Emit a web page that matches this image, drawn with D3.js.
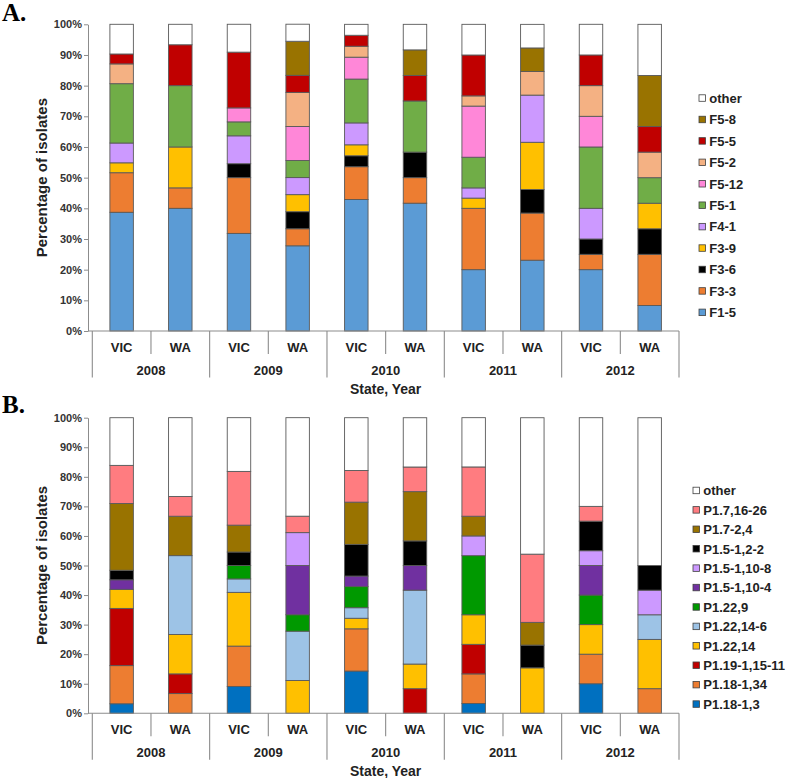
<!DOCTYPE html>
<html><head><meta charset="utf-8">
<script src="https://cdn.jsdelivr.net/npm/d3@7"></script>
<style>body{margin:0;background:#fff}svg{display:block}</style>
</head><body>
<svg id="chart" width="787" height="778"></svg>
<script>
// ---------- DATA ----------
const years = ["2008", "2009", "2010", "2011", "2012"];
const states = ["VIC", "WA"];
const yTicks = [0, 10, 20, 30, 40, 50, 60, 70, 80, 90, 100];

// Panel A (FetA types), values in % per bar: 2008 VIC, 2008 WA, 2009 VIC, ... 2012 WA
const seriesA = ["F1-5", "F3-3", "F3-6", "F3-9", "F4-1", "F5-1", "F5-12", "F5-2", "F5-5", "F5-8", "other"];
const colorsA = ["#5B9BD5", "#ED7D31", "#000000", "#FFC000", "#CC99FF", "#70AD47", "#FF87D8", "#F4B183", "#C00000", "#997300", "#FFFFFF"];
const a_F1_5  = [38.71, 40.00, 31.82, 27.78, 42.86, 41.67, 20.00, 23.08, 20.00, 8.33];
const a_F3_3  = [12.90, 6.67, 18.18, 5.56, 10.71, 8.33, 20.00, 15.38, 5.00, 16.67];
const a_F3_6  = [0, 0, 4.55, 5.56, 3.57, 8.33, 0, 7.69, 5.00, 8.33];
const a_F3_9  = [3.23, 13.33, 0, 5.56, 3.57, 0, 3.33, 15.38, 0, 8.33];
const a_F4_1  = [6.45, 0, 9.09, 5.56, 7.14, 0, 3.33, 15.38, 10.00, 0];
const a_F5_1  = [19.35, 20.00, 4.55, 5.56, 14.29, 16.67, 10.00, 0, 20.00, 8.33];
const a_F5_12 = [0, 0, 4.55, 11.11, 7.14, 0, 16.67, 0, 10.00, 0];
const a_F5_2  = [6.45, 0, 0, 11.11, 3.57, 0, 3.33, 7.69, 10.00, 8.33];
const a_F5_5  = [3.23, 13.33, 18.18, 5.56, 3.57, 8.33, 13.33, 0, 10.00, 8.33];
const a_F5_8  = [0, 0, 0, 11.11, 0, 8.33, 0, 7.69, 0, 16.67];
const a_other = [9.68, 6.67, 9.09, 5.56, 3.57, 8.33, 10.00, 7.69, 10.00, 16.67];
const valuesA = [a_F1_5, a_F3_3, a_F3_6, a_F3_9, a_F4_1, a_F5_1, a_F5_12, a_F5_2, a_F5_5, a_F5_8, a_other];

// Panel B (PorA types)
const seriesB = ["P1.18-1,3", "P1.18-1,34", "P1.19-1,15-11", "P1.22,14", "P1.22,14-6", "P1.22,9", "P1.5-1,10-4", "P1.5-1,10-8", "P1.5-1,2-2", "P1.7-2,4", "P1.7,16-26", "other"];
const colorsB = ["#0070C0", "#ED7D31", "#C00000", "#FFC000", "#9DC3E6", "#009900", "#7030A0", "#CC99FF", "#000000", "#997300", "#FF7C80", "#FFFFFF"];
const b_P1_18_1_3   = [3.23, 0, 9.09, 0, 14.29, 0, 3.33, 0, 10.00, 0];
const b_P1_18_1_34  = [12.90, 6.67, 13.64, 0, 14.29, 0, 10.00, 0, 10.00, 8.33];
const b_P1_19       = [19.35, 6.67, 0, 0, 0, 8.33, 10.00, 0, 0, 0];
const b_P1_22_14    = [6.45, 13.33, 18.18, 11.11, 3.57, 8.33, 10.00, 15.38, 10.00, 16.67];
const b_P1_22_14_6  = [0, 26.67, 4.55, 16.67, 3.57, 25.00, 0, 0, 0, 8.33];
const b_P1_22_9     = [0, 0, 4.55, 5.56, 7.14, 0, 20.00, 0, 10.00, 0];
const b_P1_5_10_4   = [3.23, 0, 0, 16.67, 3.57, 8.33, 0, 0, 10.00, 0];
const b_P1_5_10_8   = [0, 0, 0, 11.11, 0, 0, 6.67, 0, 5.00, 8.33];
const b_P1_5_2_2    = [3.23, 0, 4.55, 0, 10.71, 8.33, 0, 7.69, 10.00, 8.33];
const b_P1_7_2_4    = [22.58, 13.33, 9.09, 0, 14.29, 16.67, 6.67, 7.69, 0, 0];
const b_P1_7_16_26  = [12.90, 6.67, 18.18, 5.56, 10.71, 8.33, 16.67, 23.08, 5.00, 0];
const b_other       = [16.13, 26.67, 18.18, 33.33, 17.86, 16.67, 16.67, 46.15, 30.00, 50.00];
const valuesB = [b_P1_18_1_3, b_P1_18_1_34, b_P1_19, b_P1_22_14, b_P1_22_14_6, b_P1_22_9, b_P1_5_10_4, b_P1_5_10_8, b_P1_5_2_2, b_P1_7_2_4, b_P1_7_16_26, b_other];

// ---------- DRAW ----------
const svg = d3.select("#chart");
const FONT = "'Liberation Sans', Arial, sans-serif";
const categories = [];
years.forEach(y => states.forEach(s => categories.push(y + "|" + s)));

const x = d3.scaleBand().domain(categories).range([92.3, 679]).paddingInner(0.6).paddingOuter(0.3);
const step = x.step();
const x0 = 92.3;

function panel(opts) {
  const { top, bottom, series, colors, values, label, labelY, legendX, legendY0, legendStep } = opts;
  const y = d3.scaleLinear().domain([0, 100]).range([bottom, top]);
  const g = svg.append("g");

  // rows
  const rows = categories.map((c, i) => {
    const r = { cat: c };
    series.forEach((s, k) => r[s] = values[k][i]);
    return r;
  });
  const stacked = d3.stack().keys(series)(rows);

  // y axis
  const yAxis = d3.axisLeft(y).tickValues(yTicks).tickFormat(d => d + "%").tickSize(4).tickSizeOuter(0).tickPadding(2);
  const ya = g.append("g").attr("transform", "translate(88,0)").call(yAxis);
  ya.select(".domain").attr("stroke", "#8c8c8c");
  ya.selectAll(".tick line").attr("stroke", "#8c8c8c");
  ya.selectAll(".tick text").attr("font-family", FONT).attr("font-size", 11).attr("font-weight", "bold").attr("fill", "#333");

  // bars
  stacked.forEach((layer, k) => {
    g.append("g").selectAll("rect")
      .data(layer.filter(d => d[1] - d[0] > 0.001))
      .join("rect")
      .attr("x", d => x(d.data.cat))
      .attr("width", x.bandwidth())
      .attr("y", d => y(d[1]))
      .attr("height", d => y(d[0]) - y(d[1]))
      .attr("fill", colors[k])
      .attr("stroke", "#595959")
      .attr("stroke-width", 0.9);
  });

  // category axis
  const ax = g.append("g").attr("stroke", "#8c8c8c").attr("stroke-width", 1.1);
  ax.append("line").attr("x1", 88).attr("x2", 679).attr("y1", bottom).attr("y2", bottom);
  for (let i = 0; i <= categories.length; i++) {
    const xx = x0 + i * step;
    const long = i % 2 === 0;
    ax.append("line").attr("x1", xx).attr("x2", xx).attr("y1", bottom).attr("y2", bottom + (long ? 46.5 : 23));
  }
  g.append("g").selectAll("text").data(categories).join("text")
    .attr("x", d => x(d) + x.bandwidth() / 2)
    .attr("y", bottom + 16)
    .attr("dy", "0.35em")
    .attr("text-anchor", "middle")
    .attr("font-family", FONT).attr("font-size", 13).attr("font-weight", "bold").attr("fill", "#222")
    .text(d => d.split("|")[1]);
  g.append("g").selectAll("text").data(years).join("text")
    .attr("x", (d, i) => x0 + (i * 2 + 1) * step)
    .attr("y", bottom + 39)
    .attr("dy", "0.35em")
    .attr("text-anchor", "middle")
    .attr("font-family", FONT).attr("font-size", 13).attr("font-weight", "bold").attr("fill", "#222")
    .text(d => d);
  g.append("text")
    .attr("x", (x0 + 679) / 2).attr("y", bottom + 58).attr("dy", "0.35em")
    .attr("text-anchor", "middle")
    .attr("font-family", FONT).attr("font-size", 14).attr("font-weight", "bold").attr("fill", "#222")
    .text("State, Year");

  // y title
  g.append("text")
    .attr("transform", `translate(41.5,${(top + bottom) / 2}) rotate(-90)`)
    .attr("dy", "0.35em")
    .attr("text-anchor", "middle")
    .attr("font-family", FONT).attr("font-size", 15).attr("font-weight", "bold").attr("fill", "#222")
    .text("Percentage of isolates");

  // panel label
  g.append("text").attr("x", 2).attr("y", labelY)
    .attr("font-family", "'Liberation Serif', 'Times New Roman', serif")
    .attr("font-size", 25).attr("font-weight", "bold").attr("fill", "#000")
    .text(label);

  // legend (reverse order: other on top)
  const leg = g.append("g");
  const items = series.map((s, k) => ({ s, c: colors[k] })).reverse();
  items.forEach((it, i) => {
    const cy = legendY0 + i * legendStep;
    leg.append("rect").attr("x", legendX).attr("y", cy - 3.5).attr("width", 6.5).attr("height", 6.5)
      .attr("fill", it.c).attr("stroke", "#404040").attr("stroke-width", 0.8);
    leg.append("text").attr("x", legendX + 10.3).attr("y", cy).attr("dy", "0.35em")
      .attr("font-family", FONT).attr("font-size", 13).attr("font-weight", "bold").attr("fill", "#222")
      .text(it.s);
  });
}

panel({ top: 24.3, bottom: 331, series: seriesA, colors: colorsA, values: valuesA, label: "A.", labelY: 21,
        legendX: 699, legendY0: 98.3, legendStep: 21.43 });
panel({ top: 417.7, bottom: 713.3, series: seriesB, colors: colorsB, values: valuesB, label: "B.", labelY: 413,
        legendX: 693, legendY0: 490.7, legendStep: 19.42 });
</script>
</body></html>
